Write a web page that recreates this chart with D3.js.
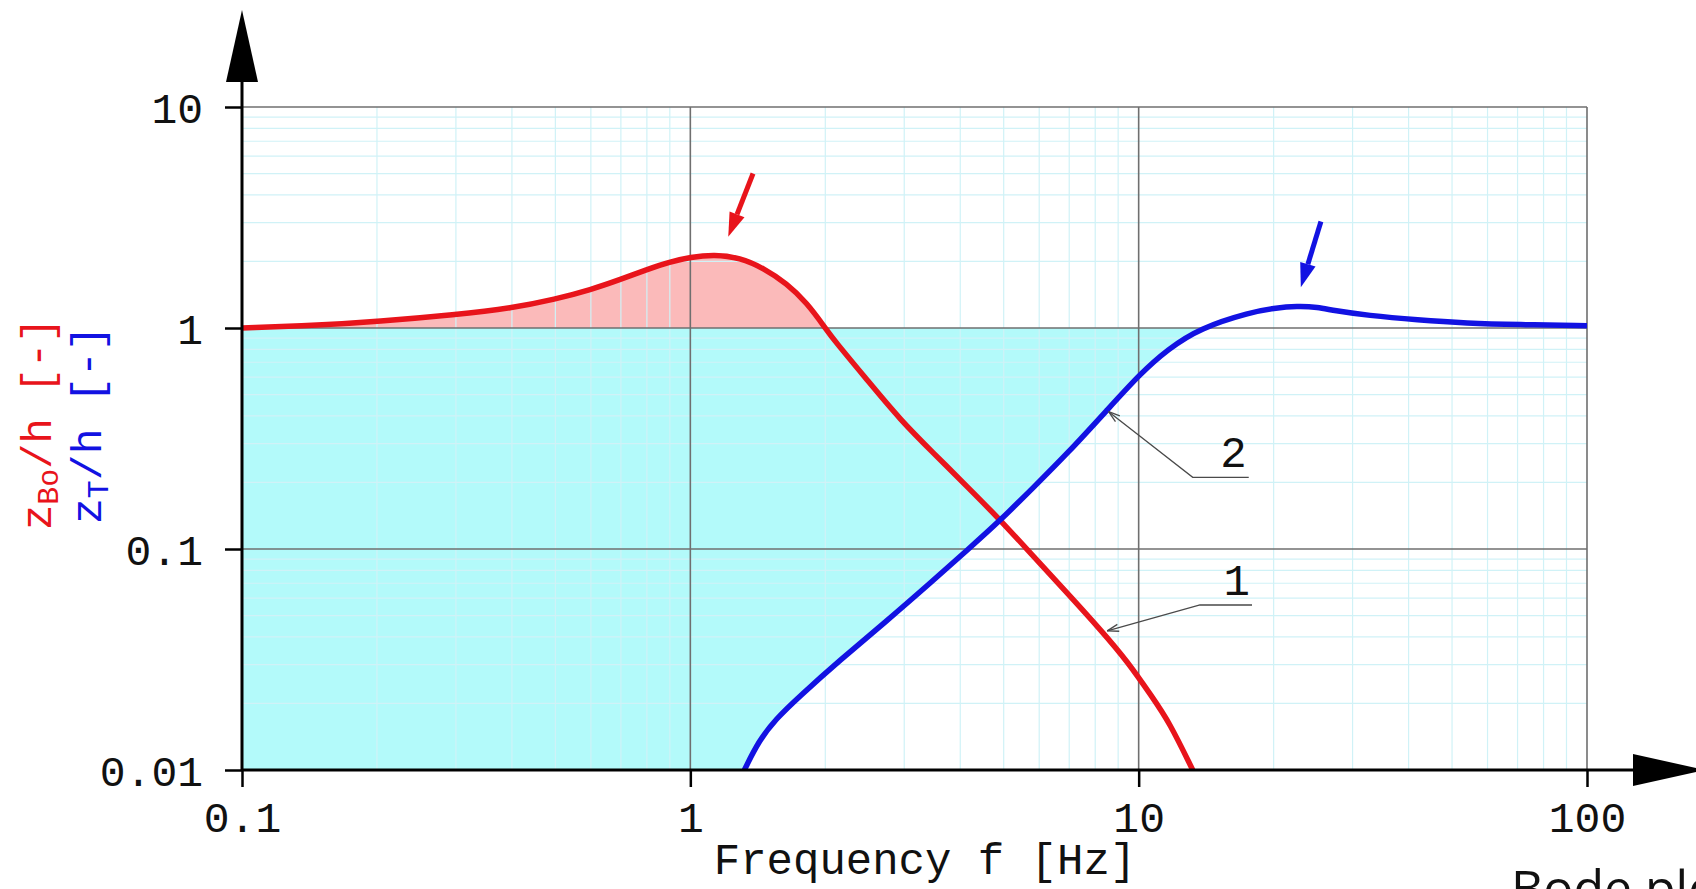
<!DOCTYPE html>
<html>
<head>
<meta charset="utf-8">
<script src="https://cdn.jsdelivr.net/npm/d3@7"></script>
<style>
  body { margin: 0; background: #fff; }
  svg { display: block; }
  .mono { font-family: "Liberation Mono", "DejaVu Sans Mono", monospace; }
</style>
</head>
<body>
<div id="chart"></div>
<script>
var svgWidth = 1696;
var svgHeight = 889;

var margin = { top: 107, right: 109, bottom: 119, left: 242 };
var width = svgWidth - margin.left - margin.right;
var height = svgHeight - margin.top - margin.bottom;

// curve 1 : zBo/h (red)
var redFreq = [0.1, 0.15, 0.2, 0.3, 0.4, 0.5, 0.6, 0.7, 0.8, 0.9, 1.0, 1.13, 1.29, 1.46, 1.64, 1.82, 2.0, 2.09, 2.48, 2.94, 3.49, 4.15, 4.92, 5.84, 6.94, 8.23, 9.44, 10.7, 11.7, 13.2];
var redVal  = [1.0, 1.03, 1.07, 1.15, 1.23, 1.35, 1.49, 1.66, 1.84, 1.99, 2.09, 2.15, 2.08, 1.86, 1.59, 1.30, 1.0, 0.883, 0.582, 0.384, 0.271, 0.191, 0.135, 0.092, 0.063, 0.043, 0.031, 0.0215, 0.0165, 0.01];

// curve 2 : zT/h (blue)
var blueFreq = [1.32, 1.42, 1.55, 1.75, 2.16, 2.70, 3.49, 4.15, 4.92, 5.84, 6.94, 8.51, 10.1, 11.6, 13.7, 17.8, 20.0, 22.6, 25.1, 27.2, 32.4, 41.9, 54, 70, 100];
var blueVal  = [0.01, 0.0135, 0.017, 0.0215, 0.0315, 0.046, 0.0724, 0.099, 0.135, 0.191, 0.271, 0.426, 0.624, 0.80, 1.0, 1.18, 1.228, 1.257, 1.242, 1.20, 1.14, 1.087, 1.05, 1.035, 1.025];

var xTicks = [0.1, 1, 10, 100];
var xTickLabels = ["0.1", "1", "10", "100"];
var yTicks = [0.01, 0.1, 1, 10];
var yTickLabels = ["0.01", "0.1", "1", "10"];

// resonance arrows: [tail f, tail v, tip f, tip v]
var redArrow = [1.38, 5.0, 1.215, 2.59];
var blueArrow = [25.5, 3.03, 23.0, 1.53];

// callouts: label, tip on curve, bend, end of underline
var calloutLabels = ["2", "1"];
var calloutTip = [[8.57, 0.418], [8.51, 0.0426]];
var calloutBend = [[13.2, 0.211], [13.7, 0.0558]];
var calloutEnd = [[17.6, 0.211], [17.9, 0.0558]];

var redData = redFreq.map((f, i) => ({ f: f, v: redVal[i] }));
var blueData = blueFreq.map((f, i) => ({ f: f, v: blueVal[i] }));

var svg = d3.select("#chart")
  .append("svg")
  .attr("width", svgWidth)
  .attr("height", svgHeight);

var x = d3.scaleLog().domain([0.1, 100]).range([margin.left, margin.left + width]);
var y = d3.scaleLog().domain([0.01, 10]).range([margin.top + height, margin.top]);

var line = d3.line().x(d => x(d.f)).y(d => y(d.v)).curve(d3.curveBasis);
var redPath = line(redData);
var bluePath = line(blueData);

var defs = svg.append("defs");
defs.append("clipPath").attr("id", "plotclip")
  .append("rect")
  .attr("x", margin.left).attr("y", margin.top)
  .attr("width", width).attr("height", height);
// region above the blue curve
defs.append("clipPath").attr("id", "aboveBlue")
  .append("path")
  .attr("d", bluePath + `L${x(100)},${y(10)}L${x(0.1)},${y(10)}L${x(0.1)},${y(0.01)}Z`);
// region below the red curve
defs.append("clipPath").attr("id", "belowRed")
  .append("path")
  .attr("d", redPath + `L${x(0.1)},${y(0.01)}Z`);

var plot = svg.append("g").attr("clip-path", "url(#plotclip)");

// fills
plot.append("g").attr("clip-path", "url(#aboveBlue)")
  .append("rect")
  .attr("x", x(0.1)).attr("y", y(1))
  .attr("width", x(100) - x(0.1)).attr("height", y(0.01) - y(1))
  .attr("fill", "#b3fafa");
plot.append("g").attr("clip-path", "url(#belowRed)")
  .append("rect")
  .attr("x", x(0.1)).attr("y", y(10))
  .attr("width", x(100) - x(0.1)).attr("height", y(1) - y(10))
  .attr("fill", "#fbbaba");

// minor grid
var minorX = [], minorY = [];
[0.1, 1, 10].forEach(function(dec) {
  d3.range(2, 10).forEach(k => minorX.push(k * dec));
});
[0.01, 0.1, 1].forEach(function(dec) {
  d3.range(2, 10).forEach(k => minorY.push(k * dec));
});

var grid = svg.append("g");
grid.selectAll(".mx").data(minorX).enter().append("line")
  .attr("x1", d => x(d)).attr("x2", d => x(d))
  .attr("y1", y(10)).attr("y2", y(0.01))
  .attr("stroke", "#d0f2f7").attr("stroke-width", 1.2);
grid.selectAll(".my").data(minorY).enter().append("line")
  .attr("y1", d => y(d)).attr("y2", d => y(d))
  .attr("x1", x(0.1)).attr("x2", x(100))
  .attr("stroke", "#d0f2f7").attr("stroke-width", 1.2);

// major grid and frame
grid.selectAll(".Mx").data([1, 10, 100]).enter().append("line")
  .attr("x1", d => x(d)).attr("x2", d => x(d))
  .attr("y1", y(10)).attr("y2", y(0.01))
  .attr("stroke", "#6f6f6f").attr("stroke-width", 1.6);
grid.selectAll(".My").data([0.1, 1, 10]).enter().append("line")
  .attr("y1", d => y(d)).attr("y2", d => y(d))
  .attr("x1", x(0.1)).attr("x2", x(100))
  .attr("stroke", "#6f6f6f").attr("stroke-width", 1.6);

// curves
var curves = svg.append("g").attr("clip-path", "url(#plotclip)");
curves.append("path")
  .attr("fill", "none").attr("stroke", "#e8141b").attr("stroke-width", 5.5)
  .attr("d", redPath);
curves.append("path")
  .attr("fill", "none").attr("stroke", "#1212e2").attr("stroke-width", 5.5)
  .attr("d", bluePath);

// axes
var bottomAxis = d3.axisBottom(x).tickValues(xTicks)
  .tickFormat((d, i) => xTickLabels[i]).tickSize(17).tickPadding(14);
var leftAxis = d3.axisLeft(y).tickValues(yTicks)
  .tickFormat((d, i) => yTickLabels[i]).tickSize(17).tickPadding(22);

var gx = svg.append("g")
  .attr("transform", `translate(0, ${y(0.01)})`)
  .call(bottomAxis);
var gy = svg.append("g")
  .attr("transform", `translate(${x(0.1)}, 0)`)
  .call(leftAxis);

[gx, gy].forEach(function(g) {
  g.select(".domain").remove();
  g.selectAll(".tick line").attr("stroke", "#000").attr("stroke-width", 2.5);
  g.selectAll(".tick text")
    .attr("class", "mono")
    .attr("font-size", "43px")
    .attr("fill", "#111");
});
gy.selectAll(".tick text").attr("dy", "0.36em");

// axis lines with arrows
var x0 = x(0.1), y0 = y(0.01);
svg.append("line").attr("x1", x0).attr("x2", x0).attr("y1", y0).attr("y2", 70)
  .attr("stroke", "#000").attr("stroke-width", 3);
svg.append("polygon")
  .attr("points", `${x0},10 ${x0 - 16},82 ${x0 + 16},82`)
  .attr("fill", "#000");
svg.append("line").attr("x1", x0).attr("x2", 1640).attr("y1", y0).attr("y2", y0)
  .attr("stroke", "#000").attr("stroke-width", 3);
svg.append("polygon")
  .attr("points", `1705,${y0} 1633,${y0 - 16} 1633,${y0 + 16}`)
  .attr("fill", "#000");

// resonance arrows
function bigArrow(a, color) {
  var tx = x(a[0]), ty = y(a[1]), hx = x(a[2]), hy = y(a[3]);
  var dx = hx - tx, dy = hy - ty, len = Math.sqrt(dx * dx + dy * dy);
  var ux = dx / len, uy = dy / len;
  var bx = hx - ux * 24, by = hy - uy * 24;
  svg.append("line")
    .attr("x1", tx).attr("y1", ty).attr("x2", bx).attr("y2", by)
    .attr("stroke", color).attr("stroke-width", 5);
  svg.append("polygon")
    .attr("points", `${hx},${hy} ${bx - uy * 8},${by + ux * 8} ${bx + uy * 8},${by - ux * 8}`)
    .attr("fill", color);
}
bigArrow(redArrow, "#e8141b");
bigArrow(blueArrow, "#1212e2");

// callouts 1 and 2
calloutLabels.forEach(function(lbl, i) {
  var tx = x(calloutTip[i][0]), ty = y(calloutTip[i][1]);
  var bx = x(calloutBend[i][0]), by = y(calloutBend[i][1]);
  var ex = x(calloutEnd[i][0]);
  svg.append("polyline")
    .attr("points", `${tx},${ty} ${bx},${by} ${ex},${by}`)
    .attr("fill", "none").attr("stroke", "#4a4a4a").attr("stroke-width", 1.3);
  var ang = Math.atan2(by - ty, bx - tx);
  [-0.3, 0.3].forEach(function(da) {
    svg.append("line")
      .attr("x1", tx).attr("y1", ty)
      .attr("x2", tx + 12 * Math.cos(ang + da)).attr("y2", ty + 12 * Math.sin(ang + da))
      .attr("stroke", "#4a4a4a").attr("stroke-width", 1.3);
  });
  svg.append("text")
    .attr("class", "mono")
    .attr("x", ex - 2).attr("y", by - 10)
    .attr("text-anchor", "end")
    .attr("font-size", "44px")
    .attr("fill", "#111")
    .text(lbl);
});

// axis titles
svg.append("text")
  .attr("class", "mono")
  .attr("x", margin.left + 683).attr("y", 874)
  .attr("text-anchor", "middle")
  .attr("font-size", "44px")
  .attr("fill", "#111")
  .text("Frequency f [Hz]");

var redTitle = svg.append("text")
  .attr("class", "mono")
  .attr("transform", "translate(51, 530) rotate(-90)")
  .attr("font-size", "42px")
  .attr("fill", "#e8141b")
  .style("white-space", "pre");
redTitle.append("tspan").text("z");
redTitle.append("tspan").attr("font-size", "30px").attr("dy", 7).text("Bo");
redTitle.append("tspan").attr("dy", -7).text("/h [-]");

var blueTitle = svg.append("text")
  .attr("class", "mono")
  .attr("transform", "translate(101, 524) rotate(-90)")
  .attr("font-size", "43px")
  .attr("fill", "#1212e2")
  .style("white-space", "pre");
blueTitle.append("tspan").text("z");
blueTitle.append("tspan").attr("font-size", "30px").attr("dy", 7).text("T");
blueTitle.append("tspan").attr("dy", -7).text("/h [-]");

// caption cut off at the bottom of the picture
svg.append("text")
  .attr("x", 1511).attr("y", 906)
  .attr("font-family", "Open Sans")
  .attr("font-size", "50px")
  .attr("fill", "#111")
  .text("Bode plot");
</script>
</body>
</html>
